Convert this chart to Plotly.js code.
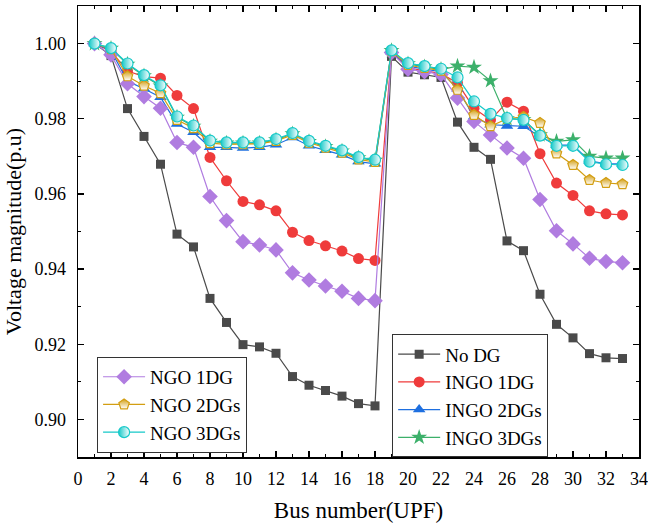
<!DOCTYPE html>
<html>
<head>
<meta charset="utf-8">
<script src="https://cdn.plot.ly/plotly-3.0.1.min.js"></script>
<style>html,body{margin:0;padding:0;background:#fff;}#chart{width:648px;height:525px;}</style>
</head>
<body>
<div id="chart"></div>
<script>
const bus = [1,2,3,4,5,6,7,8,9,10,11,12,13,14,15,16,17,18,19,20,21,22,23,24,25,26,27,28,29,30,31,32,33];

const noDG = [1.000,0.9968,0.9827,0.9753,0.9679,0.9493,0.9459,0.9322,0.9258,0.9199,0.9193,0.9176,0.9114,0.9091,0.9077,0.9062,0.9042,0.9036,0.9966,0.9924,0.9917,0.9910,0.9791,0.9724,0.9692,0.9475,0.9449,0.9333,0.9253,0.9217,0.9175,0.9164,0.9162];
const ingo1DG = [1.000,0.9980,0.9927,0.9912,0.9908,0.9862,0.9827,0.9697,0.9635,0.9580,0.9571,0.9555,0.9498,0.9476,0.9462,0.9448,0.9428,0.9423,0.9978,0.9935,0.9928,0.9920,0.9895,0.9828,0.9797,0.9844,0.9820,0.9707,0.9629,0.9596,0.9555,0.9547,0.9544];
const ingo2DGs = [1.000,0.9982,0.9900,0.9880,0.9857,0.9786,0.9764,0.9724,0.9724,0.9722,0.9724,0.9731,0.9750,0.9728,0.9716,0.9704,0.9686,0.9680,0.9978,0.9940,0.9932,0.9925,0.9880,0.9805,0.9784,0.9781,0.9780,0.9753,0.9730,0.9730,0.9688,0.9680,0.9680];
const ingo3DGs = [1.000,0.9987,0.9945,0.9914,0.9887,0.9804,0.9780,0.9740,0.9735,0.9735,0.9735,0.9744,0.9760,0.9739,0.9726,0.9714,0.9696,0.9689,0.9981,0.9946,0.9938,0.9931,0.9940,0.9937,0.9901,0.9800,0.9798,0.9757,0.9740,0.9744,0.9700,0.9695,0.9695];
const ngo1DG = [1.000,0.9970,0.9893,0.9859,0.9828,0.9737,0.9724,0.9593,0.9529,0.9473,0.9464,0.9451,0.9390,0.9371,0.9355,0.9341,0.9322,0.9316,0.9976,0.9932,0.9925,0.9918,0.9855,0.9793,0.9757,0.9722,0.9695,0.9585,0.9502,0.9467,0.9429,0.9420,0.9417];
const ngo2DGs = [1.000,0.9985,0.9913,0.9888,0.9868,0.9797,0.9775,0.9735,0.9732,0.9732,0.9733,0.9741,0.9757,0.9736,0.9723,0.9710,0.9692,0.9685,0.9980,0.9943,0.9935,0.9928,0.9877,0.9810,0.9780,0.9800,0.9805,0.9789,0.9708,0.9677,0.9637,0.9629,0.9626];
const ngo3DGs = [1.000,0.9988,0.9947,0.9916,0.9889,0.9806,0.9782,0.9742,0.9737,0.9737,0.9737,0.9746,0.9762,0.9741,0.9728,0.9716,0.9698,0.9691,0.9982,0.9948,0.9940,0.9933,0.9910,0.9846,0.9813,0.9802,0.9797,0.9755,0.9728,0.9728,0.9686,0.9679,0.9677];

const xTicks = [0,2,4,6,8,10,12,14,16,18,20,22,24,26,28,30,32,34];
const yTicks = [0.90,0.92,0.94,0.96,0.98,1.00];

const FONT = 'Times New Roman';

function tr(name, y, color, symbol, size, legend, extra) {
  const m = {symbol: symbol, size: size, color: color, line: {width: 0}};
  if (extra) Object.assign(m, extra);
  return {
    x: bus, y: y, name: name, type: 'scatter', mode: 'lines+markers',
    line: {color: color, width: 1.2},
    marker: m,
    legend: legend
  };
}

const traces = [
  tr('No DG', noDG, '#4a4a4a', 'square', 9, 'legend2'),
  tr('INGO 1DG', ingo1DG, '#ef3b3b', 'circle', 11, 'legend2'),
  tr('INGO 2DGs', ingo2DGs, '#1e6fe0', 'triangle-up', 11, 'legend2'),
  tr('INGO 3DGs', ingo3DGs, '#3cb06a', 'star', 12, 'legend2'),
  tr('NGO 1DG', ngo1DG, '#b07ce0', 'diamond', 12, 'legend'),
  tr('NGO 2DGs', ngo2DGs, '#d39e12', 'pentagon', 11, 'legend',
     {color: '#d39e12', gradient: {type: 'vertical', color: '#ffffff'}, line: {color: '#d39e12', width: 1.2}}),
  tr('NGO 3DGs', ngo3DGs, '#16c9c9', 'circle', 11, 'legend',
     {color: '#16c9c9', gradient: {type: 'horizontal', color: '#ffffff'}, line: {color: '#16c9c9', width: 1.2}})
];

const layout = {
  width: 648, height: 525,
  margin: {l: 78, r: 9, t: 6, b: 68},
  paper_bgcolor: '#ffffff', plot_bgcolor: '#ffffff',
  font: {family: FONT, size: 18, color: '#000'},
  showlegend: true,
  xaxis: {
    range: [0, 34], tickvals: xTicks, ticktext: xTicks.map(String),
    showgrid: false, zeroline: false,
    showline: true, linecolor: '#000', linewidth: 1.5, mirror: 'allticks',
    ticks: 'inside', ticklen: 6, tickwidth: 1.2, tickcolor: '#000',
    minor: {dtick: 1, tick0: 0, ticks: 'inside', ticklen: 3, tickwidth: 1.2, tickcolor: '#000', showgrid: false},
    tickfont: {family: FONT, size: 18},
    ticklabelstandoff: 5,
    title: {text: 'Bus number(UPF)', font: {family: FONT, size: 23}, standoff: 14}
  },
  yaxis: {
    range: [0.89, 1.01], tickvals: yTicks, ticktext: yTicks.map(v => v.toFixed(2)),
    showgrid: false, zeroline: false,
    showline: true, linecolor: '#000', linewidth: 1.5, mirror: 'allticks',
    ticks: 'inside', ticklen: 6, tickwidth: 1.2, tickcolor: '#000',
    minor: {dtick: 0.01, tick0: 0.89, ticks: 'inside', ticklen: 3, tickwidth: 1.2, tickcolor: '#000', showgrid: false},
    tickfont: {family: FONT, size: 18},
    ticklabelstandoff: 7,
    title: {text: 'Voltage magnitude(p.u)', font: {family: FONT, size: 22}, standoff: 6}
  },
  legend: {
    x: 0.034, y: 0.222, xanchor: 'left', yanchor: 'top',
    bgcolor: '#ffffff', bordercolor: '#333', borderwidth: 1,
    font: {family: FONT, size: 19}, tracegroupgap: 0, itemwidth: 42
  },
  legend2: {
    x: 0.56, y: 0.272, xanchor: 'left', yanchor: 'top',
    bgcolor: '#ffffff', bordercolor: '#333', borderwidth: 1,
    font: {family: FONT, size: 19}, tracegroupgap: 0, itemwidth: 42
  }
};

Plotly.newPlot('chart', traces, layout, {displayModeBar: false, staticPlot: true});
</script>
</body>
</html>
